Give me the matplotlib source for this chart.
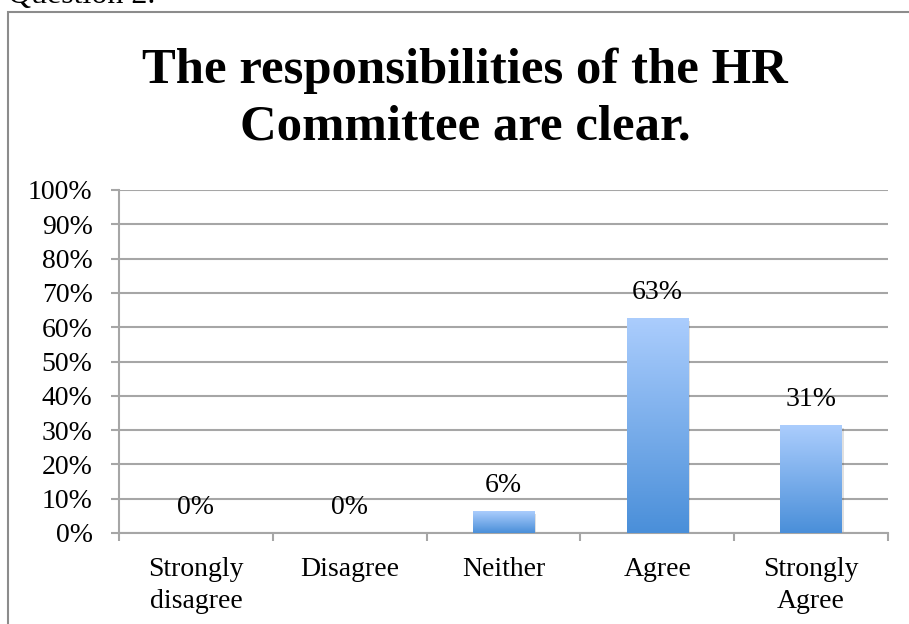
import matplotlib
matplotlib.use("Agg")
import matplotlib.pyplot as plt
from matplotlib.colors import LinearSegmentedColormap
from matplotlib.patches import Rectangle
import numpy as np

# Data
categories = ["Strongly\ndisagree", "Disagree", "Neither", "Agree", "Strongly\nAgree"]
values = [0, 0, 6.25, 62.5, 31.25]
labels = ["0%", "0%", "6%", "63%", "31%"]
yticks = list(range(0, 101, 10))

serif = "Liberation Serif"
grid_col = "#a6a6a6"
W, H = 909, 624

fig = plt.figure(figsize=(W / 100, H / 100), dpi=100)
ax = fig.add_axes([119 / W, 91 / H, 769 / W, 343 / H])

# outer chart border
fig.patches.append(Rectangle((8 / W, -0.01), 1.0, (H - 12) / H + 0.01,
                             transform=fig.transFigure, fill=False,
                             edgecolor="#8c8c8c", linewidth=1.5))

# heading above the chart, cut off at the top edge like in the source page
fig.text(8 / W, 1 - 3 / H, "Question 2.", family=serif, fontsize=23,
         va="baseline", ha="left")

fig.text(465 / W, 1 - 83 / H, "The responsibilities of the HR", family=serif,
         fontweight="bold", fontsize=36.5, ha="center", va="baseline")
fig.text(465 / W, 1 - 140 / H, "Committee are clear.", family=serif,
         fontweight="bold", fontsize=36.5, ha="center", va="baseline")

cmap = LinearSegmentedColormap.from_list("bar", ["#4a8fd9", "#abcdfd"])
grad = np.linspace(0, 1, 256).reshape(-1, 1)
bw = 0.40
x = np.arange(len(categories))
for xi, v, lab in zip(x, values, labels):
    if v > 0:
        # faint shadow
        ax.add_patch(Rectangle((xi - bw / 2 + 0.012, -0.6), bw, v, color="#000000",
                               alpha=0.12, zorder=2.5, linewidth=0))
        ax.imshow(grad, extent=[xi - bw / 2, xi + bw / 2, 0, v], origin="lower",
                  cmap=cmap, aspect="auto", zorder=3)
    ax.annotate(lab, (xi, v), xytext=(0, 14), textcoords="offset points",
                ha="center", va="baseline", family=serif, fontsize=20)

ax.set_xlim(-0.5, len(categories) - 0.5)
ax.set_ylim(0, 100)
ax.set_yticks(yticks)
ax.set_yticklabels([f"{t}%" for t in yticks], family=serif, fontsize=20)
ax.set_xticks(x)
ax.set_xticklabels(categories, family=serif, fontsize=20, linespacing=1.4)
ax.set_xticks(np.arange(-0.5, len(categories)), minor=True)
ax.tick_params(axis="x", which="major", length=0, pad=17)
ax.tick_params(axis="x", which="minor", length=6, color=grid_col, width=1.5, direction="out")
ax.tick_params(axis="y", length=6, color=grid_col, width=1.5, direction="out", pad=13)

ax.grid(axis="y", color=grid_col, linewidth=1.5)
ax.set_axisbelow(True)
for s in ["top", "right"]:
    ax.spines[s].set_visible(False)
for s in ["left", "bottom"]:
    ax.spines[s].set_color(grid_col)
    ax.spines[s].set_linewidth(1.5)

fig.savefig("out.png", dpi=100)
